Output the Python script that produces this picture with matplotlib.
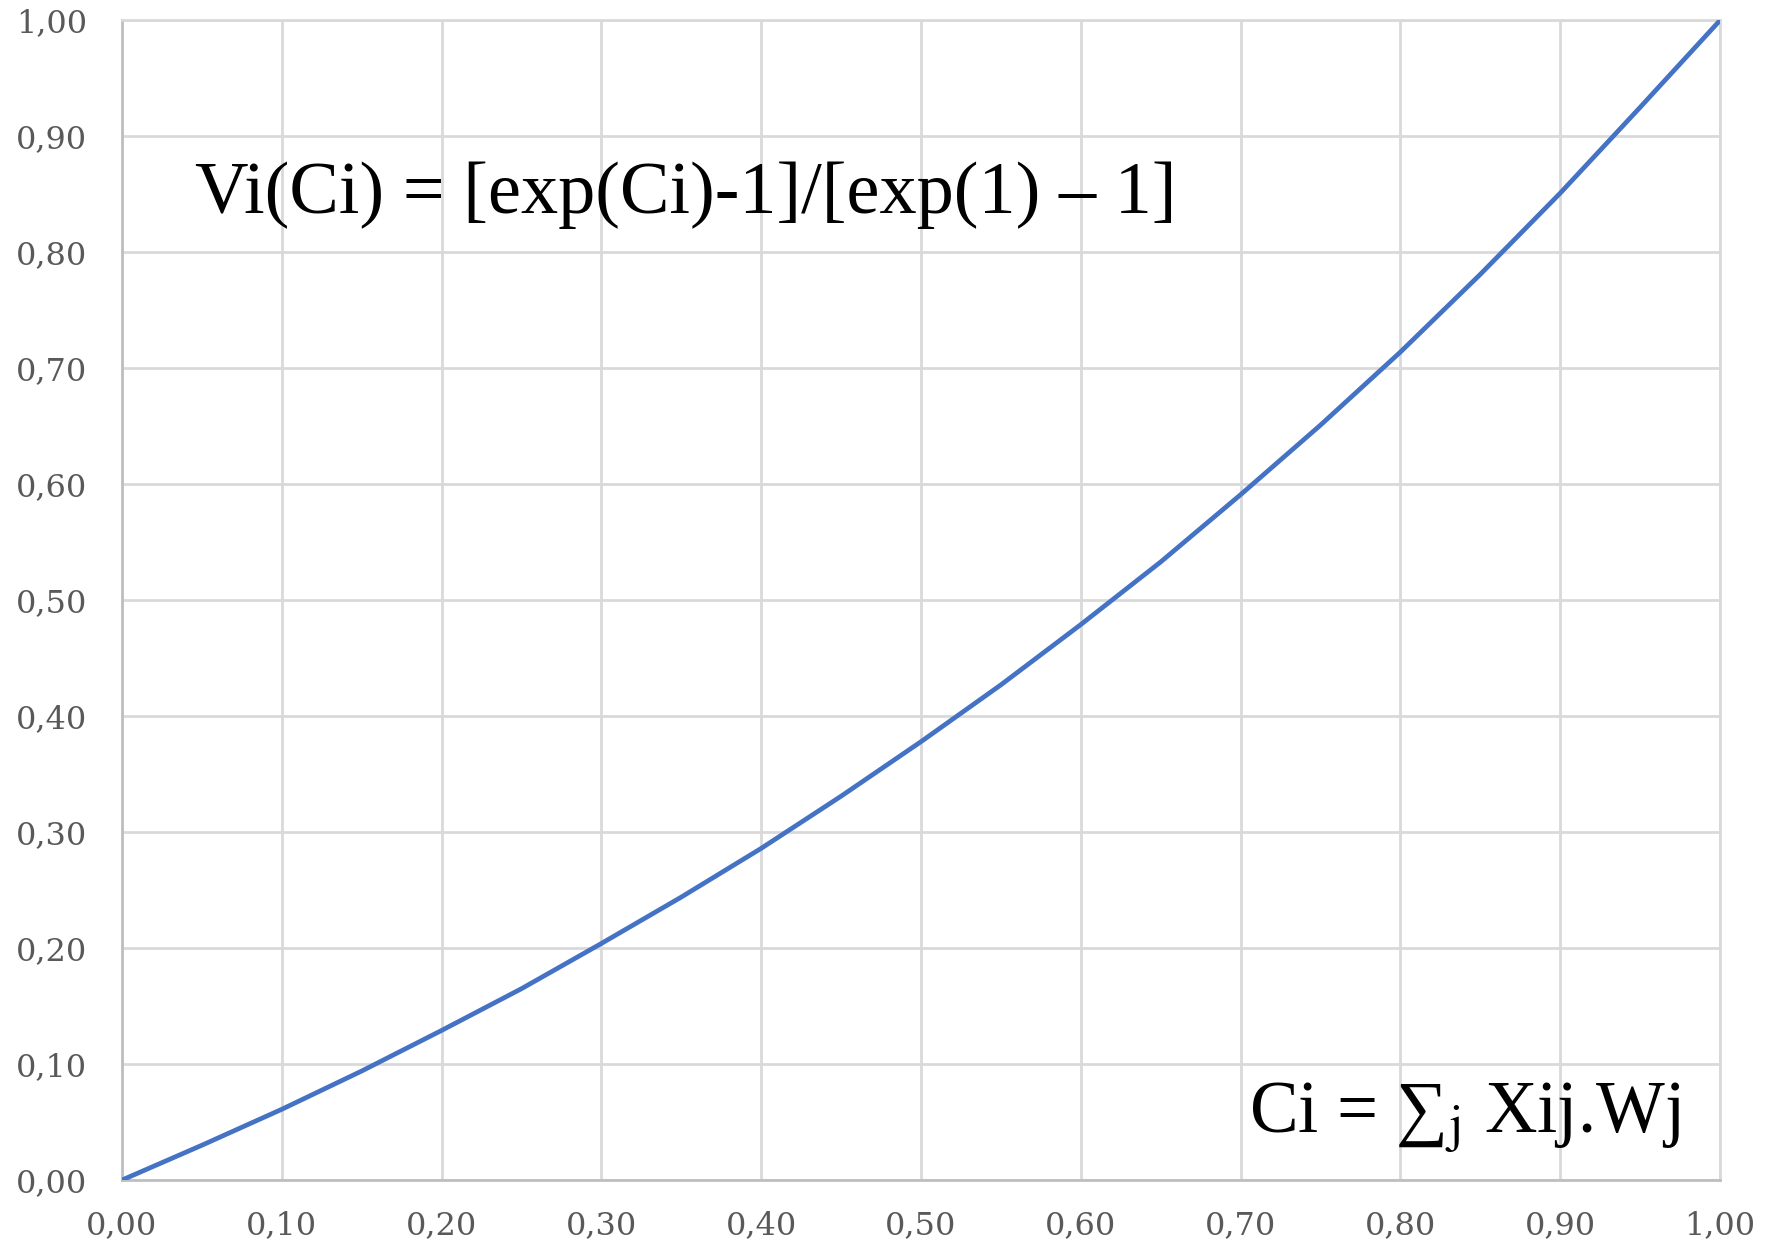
import matplotlib
matplotlib.use("Agg")
import matplotlib.pyplot as plt

# curve, every 0.05 on the x axis
ci = [0.00, 0.05, 0.10, 0.15, 0.20, 0.25, 0.30, 0.35, 0.40, 0.45, 0.50,
      0.55, 0.60, 0.65, 0.70, 0.75, 0.80, 0.85, 0.90, 0.95, 1.00]
vi = [0.000, 0.030, 0.061, 0.094, 0.129, 0.165, 0.204, 0.244, 0.286, 0.331, 0.378,
      0.427, 0.479, 0.533, 0.591, 0.651, 0.714, 0.781, 0.851, 0.925, 1.000]

ticks = [0.0, 0.1, 0.2, 0.3, 0.4, 0.5, 0.6, 0.7, 0.8, 0.9, 1.0]
tick_labels = ["0,00", "0,10", "0,20", "0,30", "0,40", "0,50",
               "0,60", "0,70", "0,80", "0,90", "1,00"]

formula_v = "Vi(Ci) = [exp(Ci)-1]/[exp(1) \u2013 1]"
formula_c = "Ci = \u2211$_\\mathrm{j}$ Xij.Wj"

plt.rcParams['mathtext.fontset'] = 'stix'

fig = plt.figure(figsize=(17.75, 12.44), dpi=100)
ax = fig.add_axes([0.0687, 0.0514, 0.9003, 0.9322])

ax.plot(ci, vi, "-", color="#4472C4", linewidth=3.4, solid_capstyle="round", zorder=3)

ax.set_xlim(0, 1)
ax.set_ylim(0, 1)
ax.set_xticks(ticks)
ax.set_yticks(ticks)
ax.set_xticklabels(tick_labels)
ax.set_yticklabels(tick_labels)
for lab in ax.get_xticklabels() + ax.get_yticklabels():
    lab.set_fontfamily("DejaVu Serif")
    lab.set_fontsize(23)
    lab.set_color("#595959")
ax.tick_params(axis="both", length=0)
ax.tick_params(axis="y", pad=25)
ax.tick_params(axis="x", pad=22)

ax.grid(True, color="#d9d9d9", linewidth=2.0, zorder=0)
ax.set_axisbelow(True)
for s in ["top", "right"]:
    ax.spines[s].set_color("#d9d9d9")
    ax.spines[s].set_linewidth(2.0)
for s in ["left", "bottom"]:
    ax.spines[s].set_color("#bfbfbf")
    ax.spines[s].set_linewidth(2.0)

ax.text(0.0457, 0.834, formula_v, fontfamily=["Liberation Serif", "DejaVu Serif"],
        fontsize=53.5, va="baseline", ha="left", color="black")
ax.text(0.705, 0.0414, formula_c, fontfamily=["Liberation Serif", "DejaVu Serif"],
        fontsize=52.5, va="baseline", ha="left", color="black")

fig.savefig("out.png", dpi=100)
